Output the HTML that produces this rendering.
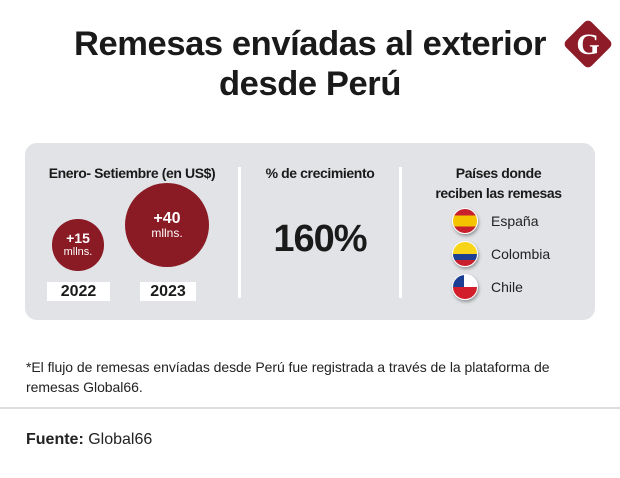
<!DOCTYPE html>
<html><head><meta charset="utf-8">
<style>
*{margin:0;padding:0;box-sizing:border-box}
body{width:620px;height:478px;background:#fff;font-family:"Liberation Sans",sans-serif;color:#222;position:relative;overflow:hidden}
.a{position:absolute}
.title{left:0;width:620px;text-align:center;font-weight:bold;font-size:34.5px;letter-spacing:-0.4px;color:#1a1a1a;line-height:40px}
.panel{left:25px;top:143px;width:570px;height:177px;background:#e1e3e6;border-radius:12px}
.div{width:3px;background:#fff;top:167px;height:131px}
.h{font-weight:bold;font-size:14px;letter-spacing:-0.4px;text-align:center;color:#1a1a1a;line-height:20px}
.circ{border-radius:50%;background:#8a1a24;color:#fff;text-align:center;display:flex;flex-direction:column;justify-content:center;align-items:center}
.yr{background:#fff;font-weight:bold;font-size:16px;text-align:center;line-height:19px;color:#1a1a1a}
.flag{width:26px;height:26px;border-radius:50%;overflow:hidden;box-shadow:1px 2px 3px rgba(0,0,0,.35);border:1.5px solid #fff}
.fl{font-size:14px;color:#222}
</style></head><body>
<div class="a title" style="top:24px">Remesas envíadas al exterior<br>desde Perú</div>
<svg class="a" style="left:560px;top:16px" width="56" height="56">
<rect x="10" y="10" width="36" height="36" rx="5" transform="rotate(45 28 28)" fill="#8e1b28"/>
<text x="28" y="38" text-anchor="middle" font-family="Liberation Serif" font-weight="bold" font-size="30" fill="#fff">G</text>
</svg>
<div class="a panel"></div>
<div class="a div" style="left:238px"></div>
<div class="a div" style="left:399px"></div>
<div class="a h" style="left:25px;width:214px;top:163px">Enero- Setiembre (en US$)</div>
<div id="bubbles"></div>
<div class="a h" style="left:241px;width:158px;top:163px">% de crecimiento</div>
<div class="a" style="left:241px;width:158px;top:218px;text-align:center;font-weight:bold;font-size:38px;letter-spacing:-1px;color:#1a1a1a">160%</div>
<div class="a h" style="left:402px;width:193px;top:163px">Países donde<br>reciben las remesas</div>
<div class="a flag" style="left:452px;top:208px;background:linear-gradient(#c8202d 0 27%,#f5c400 27% 73%,#c8202d 73%)"></div>
<div class="a fl" style="left:491px;top:213px">España</div>
<div class="a flag" style="left:452px;top:241px;background:linear-gradient(#f7d417 0 50%,#1c3f94 50% 75%,#c8202d 75%)"></div>
<div class="a fl" style="left:491px;top:246px">Colombia</div>
<div class="a flag" style="left:452px;top:274px;background:linear-gradient(to bottom,transparent 50%,#d21e2b 50%),linear-gradient(to right,#1c3f94 45%,#fff 45%)"></div>
<div class="a fl" style="left:491px;top:279px">Chile</div>
<div class="a" style="left:26px;top:357px;font-size:14px;letter-spacing:-0.05px;line-height:20px;color:#222">*El flujo de remesas envíadas desde Perú fue registrada a través de la plataforma de<br>remesas Global66.</div>
<div class="a" style="left:0;top:407px;width:620px;height:2px;background:#ddd"></div>
<div class="a" style="left:26px;top:431px;font-size:16px;color:#222"><b>Fuente:</b> Global66</div>
<script>
const years=['2022','2023'];
const values=[15,40];
const labels=['+15','+40'];
const cont=document.getElementById('bubbles');
const maxV=Math.max(...values), maxR=42;
const cx=[78,167], baseY=[245,225], boxX=[47,140], boxW=[63,56];
years.forEach((y,i)=>{
  const r=maxR*Math.sqrt(values[i]/maxV);
  const c=document.createElement('div');
  c.className='a circ';
  
  
  c.style.left=(cx[i]-r)+'px';c.style.top=(baseY[i]-r)+'px';
  c.style.width=(2*r)+'px';c.style.height=(2*r)+'px';
  c.innerHTML='<div style="font-weight:bold;font-size:'+(i?16:14)+'px;line-height:16px">'+labels[i]+'</div><div style="font-size:'+(i?12:11)+'px;line-height:13px">mllns.</div>';
  cont.appendChild(c);
  const b=document.createElement('div');
  b.className='a yr';
  
  
  b.style.left=boxX[i]+'px';b.style.top='282px';b.style.width=boxW[i]+'px';
  b.textContent=y;
  cont.appendChild(b);
});
</script>
</body></html>
